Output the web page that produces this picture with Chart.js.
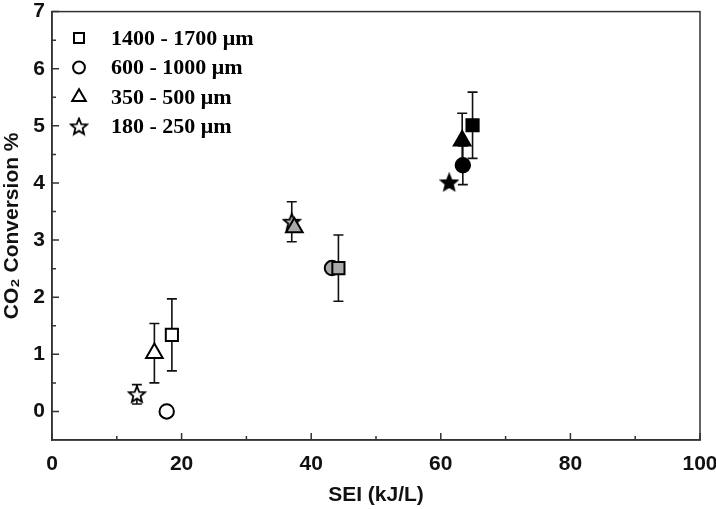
<!DOCTYPE html>
<html>
<head>
<meta charset="utf-8">
<script src="https://cdn.jsdelivr.net/npm/chart.js@4.4.0/dist/chart.umd.min.js"></script>
<style>
  html, body { margin: 0; padding: 0; background: #fff; }
  #wrap { width: 716px; height: 509px; }
</style>
</head>
<body>
<div id="wrap"><canvas id="chart" width="716" height="509"></canvas></div>
<script>
// particle size ranges (legend)
const sizeLabels = ["1400 - 1700 \u03bcm", "600 - 1000 \u03bcm", "350 - 500 \u03bcm", "180 - 250 \u03bcm"];
// marker fill per point: open, gray, black groups
const groupFills = ["#ffffff", "#a9a9a9", "#000000"];

// SEI (kJ/L), CO2 conversion %, error (+/-)
const squareX = [18.5, 44.2, 64.9];
const squareY = [1.34, 2.51, 5.01];
const squareErr = [0.63, 0.58, 0.58];

const circleX = [17.7, 43.2, 63.4];
const circleY = [0.0, 2.51, 4.31];
const circleErr = [0, 0, 0.34];

const triangleX = [15.8, 37.4, 63.3];
const triangleY = [1.02, 3.22, 4.74];
const triangleErr = [0.52, 0, 0.48];

const starX = [13.1, 37.0, 61.3];
const starY = [0.30, 3.32, 4.01];
const starErr = [0.17, 0.35, 0];

const xTicks = [0, 20, 40, 60, 80, 100];
const xMinor = [10, 30, 50, 70, 90];
const yTicks = [0, 1, 2, 3, 4, 5, 6, 7];
const yMinor = [0.5, 1.5, 2.5, 3.5, 4.5, 5.5, 6.5];

// filled five-point star images
function makeStar(fill) {
    const c = document.createElement("canvas");
    c.width = 20; c.height = 20;
    const g = c.getContext("2d");
    g.beginPath();
    for (let i = 0; i < 10; i++) {
        const r = i % 2 === 0 ? 8.6 : 3.8;
        const a = -Math.PI / 2 + i * Math.PI / 5;
        const px = 10 + r * Math.cos(a), py = 10.6 + r * Math.sin(a);
        if (i === 0) g.moveTo(px, py); else g.lineTo(px, py);
    }
    g.closePath();
    g.fillStyle = fill;
    g.fill();
    g.lineWidth = 1.8;
    g.strokeStyle = "#000";
    g.lineJoin = "miter";
    g.stroke();
    return c;
}
const starImgs = groupFills.map(makeStar);

function pts(xs, ys, es) {
    return xs.map((x, i) => ({ x: x, y: ys[i], err: es[i] }));
}

const datasets = [
    { label: sizeLabels[0], data: pts(squareX, squareY, squareErr), pointStyle: "rect", pointRadius: 8.6 },
    { label: sizeLabels[1], data: pts(circleX, circleY, circleErr), pointStyle: "circle", pointRadius: 7.2 },
    { label: sizeLabels[2], data: pts(triangleX, triangleY, triangleErr), pointStyle: "triangle", pointRadius: 9.6 },
    { label: sizeLabels[3], data: pts(starX, starY, starErr), pointStyle: starImgs, pointRadius: 9 }
].map(d => Object.assign(d, {
    pointBackgroundColor: groupFills,
    pointBorderColor: "#000",
    pointBorderWidth: 2,
    pointHoverRadius: d.pointRadius,
    showLine: false
}));

// vertical error bars with caps, behind markers
const errorBars = {
    id: "errorBars",
    beforeDatasetsDraw(chart) {
        const ctx = chart.ctx, xs = chart.scales.x, ys = chart.scales.y;
        ctx.save();
        ctx.strokeStyle = "#111";
        ctx.lineWidth = 1.6;
        chart.data.datasets.forEach(ds => {
            ds.data.forEach(p => {
                if (!p.err) return;
                const px = xs.getPixelForValue(p.x);
                const top = ys.getPixelForValue(p.y + p.err);
                const bot = ys.getPixelForValue(p.y - p.err);
                ctx.beginPath();
                ctx.moveTo(px, top); ctx.lineTo(px, bot);
                ctx.moveTo(px - 5, top); ctx.lineTo(px + 5, top);
                ctx.moveTo(px - 5, bot); ctx.lineTo(px + 5, bot);
                ctx.stroke();
            });
        });
        ctx.restore();
    }
};

// box frame, inward ticks and the legend inside the plot
const frame = {
    id: "frame",
    afterDraw(chart) {
        const ctx = chart.ctx, a = chart.chartArea;
        const xs = chart.scales.x, ys = chart.scales.y;
        ctx.save();
        ctx.strokeStyle = "#333";
        ctx.lineWidth = 1.5;
        ctx.strokeRect(a.left, a.top, a.right - a.left, a.bottom - a.top);
        ctx.beginPath();
        xTicks.forEach(v => { const p = xs.getPixelForValue(v); ctx.moveTo(p, a.bottom); ctx.lineTo(p, a.bottom - 7); });
        xMinor.forEach(v => { const p = xs.getPixelForValue(v); ctx.moveTo(p, a.bottom); ctx.lineTo(p, a.bottom - 4); });
        yTicks.forEach(v => { const p = ys.getPixelForValue(v); ctx.moveTo(a.left, p); ctx.lineTo(a.left + 7, p); });
        yMinor.forEach(v => { const p = ys.getPixelForValue(v); ctx.moveTo(a.left, p); ctx.lineTo(a.left + 4, p); });
        ctx.stroke();

        // legend (open markers)
        ctx.font = "bold 22px 'Liberation Serif', 'Times New Roman', serif";
        ctx.textBaseline = "middle";
        chart.data.datasets.forEach((ds, i) => {
            const y = 38 + i * 29.5;
            ctx.fillStyle = "#fff";
            ctx.strokeStyle = "#000";
            ctx.lineWidth = 2;
            Chart.helpers.drawPoint(ctx, {
                pointStyle: Array.isArray(ds.pointStyle) ? ds.pointStyle[0] : ds.pointStyle,
                radius: ds.pointRadius * 0.82,
                borderWidth: 2,
                rotation: 0
            }, 79, y);
            ctx.fillStyle = "#000";
            ctx.fillText(ds.label, 111, y + 1);
        });
        ctx.restore();
    }
};

function renderChart() {
    const ctx = document.getElementById("chart").getContext("2d");
    const axisFont = { family: "'Liberation Sans', Arial, sans-serif", size: 21, weight: "bold" };
    const titleFont = { family: "'Liberation Sans', Arial, sans-serif", size: 21, weight: "bold" };
    new Chart(ctx, {
        type: "scatter",
        data: { datasets: datasets },
        options: {
            responsive: false,
            animation: false,
            layout: { padding: { top: 10, right: 16, left: 0, bottom: 0 } },
            plugins: {
                legend: { display: false },
                tooltip: { enabled: false }
            },
            scales: {
                x: {
                    type: "linear",
                    min: 0,
                    max: 100,
                    afterBuildTicks: s => { s.ticks = xTicks.map(v => ({ value: v })); },
                    afterFit: s => { s.height = 69; s.paddingLeft = 0; s.paddingRight = 0; },
                    grid: { display: false, drawTicks: false },
                    border: { display: true, color: "#333", width: 1.5 },
                    ticks: { color: "#111", font: axisFont, padding: 12, maxRotation: 0 },
                    title: {
                        display: true,
                        text: "SEI (kJ/L)",
                        color: "#111",
                        font: titleFont,
                        padding: { top: 0, bottom: 1 }
                    }
                },
                y: {
                    type: "linear",
                    min: -0.5,
                    max: 7,
                    afterBuildTicks: s => { s.ticks = yTicks.map(v => ({ value: v })); },
                    afterFit: s => { s.width = 52; s.paddingTop = 0; s.paddingBottom = 0; },
                    grid: { display: false, drawTicks: false },
                    border: { display: true, color: "#333", width: 1.5 },
                    ticks: { color: "#111", font: axisFont, padding: 7 },
                    title: {
                        display: true,
                        text: "CO\u2082 Conversion %",
                        color: "#111",
                        font: titleFont,
                        padding: { top: 0, bottom: 0 }
                    }
                }
            }
        },
        plugins: [errorBars, frame]
    });
}

document.addEventListener("DOMContentLoaded", renderChart);
</script>
</body>
</html>
